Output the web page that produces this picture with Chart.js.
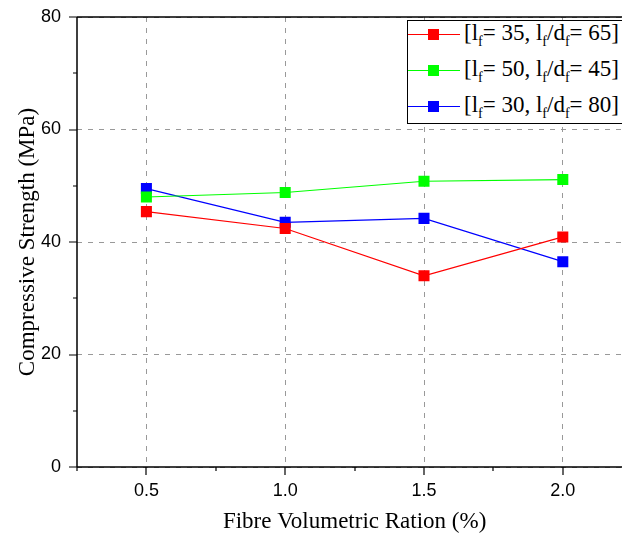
<!DOCTYPE html>
<html>
<head>
<meta charset="utf-8">
<script src="https://cdn.jsdelivr.net/npm/chart.js@4.4.1/dist/chart.umd.min.js"></script>
<style>
  html, body { margin: 0; padding: 0; background: #fff; overflow: hidden; width: 622px; height: 538px; }
  #wrap { position: relative; width: 640px; height: 538px; }
  #legend { position: absolute; left: 407px; top: 20px; width: 240px; height: 104px;
            border: 1px solid #000; background: #fff; box-sizing: border-box;
            font-family: "Liberation Serif", "Times New Roman", serif; font-size: 23px; color: #000; }
  .row { position: absolute; left: 0; height: 30px; width: 100%; }
  .sample { position: absolute; left: 0; top: 13px; width: 52px; height: 0; border-top: 1px solid; }
  .sq { position: absolute; left: 20px; top: -6px; width: 11px; height: 11px; }
  .txt { position: absolute; left: 56px; top: -1px; line-height: 26px; white-space: nowrap; }
  .txt sub { font-size: 14px; vertical-align: -6px; line-height: 0; }
</style>
</head>
<body>
<div id="wrap">
  <canvas id="c" width="640" height="538"></canvas>
  <div id="legend"></div>
</div>
<script>
// ---- data ----
const fibreRatio = [0.5, 1.0, 1.5, 2.0];
const strengthA = [45.4, 42.4, 34.0, 40.9];   // lf=35, lf/df=65
const strengthB = [48.0, 48.8, 50.8, 51.1];   // lf=50, lf/df=45
const strengthC = [49.5, 43.5, 44.2, 36.5];   // lf=30, lf/df=80
const seriesLf = [35, 50, 30];
const seriesAspect = [65, 45, 80];
const seriesColors = ['#ff0000', '#00ff00', '#0000ff'];
const xMajorTicks = [0.5, 1.0, 1.5, 2.0];
const xMinorTicks = [0.25, 0.75, 1.25, 1.75, 2.25];
const yMajorTicks = [0, 20, 40, 60, 80];
const yMinorTicks = [10, 30, 50, 70];
const xTitle = 'Fibre Volumetric Ration (%)';
const yTitle = 'Compressive Strength (MPa)';

const seriesValues = [strengthA, strengthB, strengthC];

function toPoints(vals) { return fibreRatio.map((x, i) => ({ x: x, y: vals[i] })); }

const datasets = seriesValues.map((vals, i) => ({
  label: '[lf= ' + seriesLf[i] + ', lf/df= ' + seriesAspect[i] + ']',
  data: toPoints(vals),
  borderColor: seriesColors[i],
  backgroundColor: seriesColors[i],
  borderWidth: 1.2,
  pointStyle: 'rect',
  pointRadius: 7.8,
  pointHoverRadius: 7.8,
  pointBorderWidth: 0,
  showLine: true,
  tension: 0
}));

const framePlugin = {
  id: 'frame',
  afterDraw(chart) {
    const ctx = chart.ctx;
    const xs = chart.scales.x, ys = chart.scales.y;
    const a = chart.chartArea;
    ctx.save();
    ctx.strokeStyle = '#000';
    ctx.lineWidth = 1.5;
    ctx.beginPath();
    ctx.moveTo(a.left, a.top); ctx.lineTo(a.left, a.bottom);
    ctx.moveTo(a.left, a.bottom); ctx.lineTo(a.right, a.bottom);
    ctx.moveTo(a.left, a.top); ctx.lineTo(a.right, a.top);
    ctx.stroke();
    ctx.lineWidth = 1.2;
    ctx.beginPath();
    yMajorTicks.forEach(v => { const p = Math.round(ys.getPixelForValue(v)) ; ctx.moveTo(a.left, p); ctx.lineTo(a.left - 8, p); });
    yMinorTicks.forEach(v => { const p = Math.round(ys.getPixelForValue(v)) ; ctx.moveTo(a.left, p); ctx.lineTo(a.left - 4, p); });
    xMajorTicks.forEach(v => { const p = Math.round(xs.getPixelForValue(v)) ; ctx.moveTo(p, a.bottom); ctx.lineTo(p, a.bottom + 8); });
    xMinorTicks.forEach(v => { const p = Math.round(xs.getPixelForValue(v)) ; ctx.moveTo(p, a.bottom); ctx.lineTo(p, a.bottom + 4); });
    ctx.stroke();
    ctx.restore();
  }
};

const chart = new Chart(document.getElementById('c'), {
  type: 'scatter',
  data: { datasets: datasets },
  options: {
    responsive: false,
    animation: false,
    devicePixelRatio: 1,
    layout: { padding: { left: 0, top: 17, right: 6, bottom: 0 } },
    plugins: { legend: { display: false }, tooltip: { enabled: false } },
    scales: {
      x: {
        type: 'linear', min: 0.25, max: 2.25,
        afterBuildTicks(s) { s.ticks = xMajorTicks.map(v => ({ value: v })); },
        afterFit(s) { s.height = 71; s.paddingLeft = 0; s.paddingRight = 0; },
        ticks: { color: '#000', padding: 13, font: { family: 'Liberation Sans', size: 18 },
                 callback: v => Number(v).toFixed(1), maxRotation: 0, autoSkip: false },
        grid: { color: '#999999', lineWidth: 1, drawTicks: false },
        border: { display: false, dash: [5, 6] },
        title: { display: true, text: xTitle, color: '#000', padding: { top: 0, bottom: 2 },
                 font: { family: 'Liberation Serif', size: 23 } }
      },
      y: {
        type: 'linear', min: 0, max: 80,
        afterBuildTicks(s) { s.ticks = yMajorTicks.map(v => ({ value: v })); },
        afterFit(s) { s.width = 77; s.paddingTop = 0; s.paddingBottom = 0; },
        ticks: { color: '#000', padding: 16, font: { family: 'Liberation Sans', size: 18 } },
        grid: { color: '#999999', lineWidth: 1, drawTicks: false },
        border: { display: false, dash: [5, 6] },
        title: { display: true, text: yTitle, color: '#000', padding: { top: 14, bottom: 0 },
                 font: { family: 'Liberation Serif', size: 23 } }
      }
    }
  },
  plugins: [framePlugin]
});

// HTML legend with subscripts (real text)
const legend = document.getElementById('legend');
seriesLf.forEach((lf, i) => {
  const row = document.createElement('div');
  row.className = 'row';
  row.style.top = (i * 36) + 'px';
  row.innerHTML = '<div class="sample" style="border-color:' + seriesColors[i] + '">' +
    '<div class="sq" style="background:' + seriesColors[i] + '"></div></div>' +
    '<div class="txt">[l<sub>f</sub>= ' + lf + ', l<sub>f</sub>/d<sub>f</sub>= ' + seriesAspect[i] + ']</div>';
  legend.appendChild(row);
});
</script>
</body>
</html>
